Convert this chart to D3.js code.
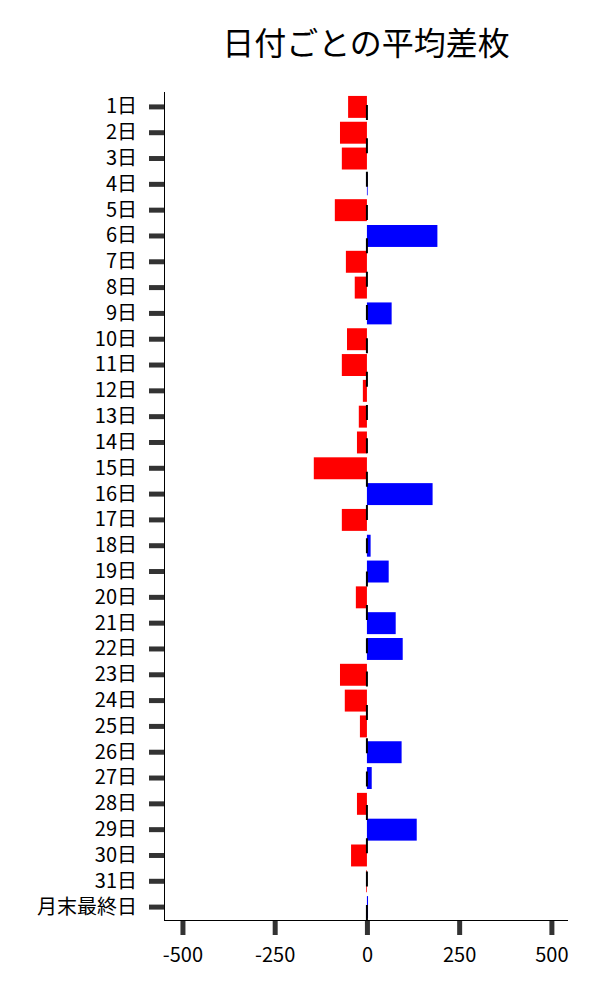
<!DOCTYPE html>
<html><head><meta charset="utf-8">
<script src="https://cdn.jsdelivr.net/npm/d3@7"></script>
<style>body{margin:0;background:#fff;} svg{display:block;}</style>
</head><body>
<script>
const categories = ["1日","2日","3日","4日","5日","6日","7日","8日","9日","10日","11日","12日","13日","14日","15日","16日","17日","18日","19日","20日","21日","22日","23日","24日","25日","26日","27日","28日","29日","30日","31日","月末最終日"];
const values = [-51,-73,-68,2,-87,191,-57,-33,67,-54,-68,-11,-22,-27,-144,178,-68,10,59,-30,78,97,-73,-60,-19,94,13,-27,135,-43,-2,3];
const xTicks = [-500,-250,0,250,500];
const title = "日付ごとの平均差枚";

const W=600,H=1000;
const svg=d3.select("body").append("svg").attr("width",W).attr("height",H);
const font="'Noto Sans CJK JP','Noto Sans',sans-serif";

const x=d3.scaleLinear().domain([-550,545]).range([164,568]);
const y=d3.scaleBand().domain(categories).range([94,920]).paddingInner(0.15).paddingOuter(0.075);

svg.append("text").attr("x",366).attr("y",55).attr("text-anchor","middle")
  .attr("font-family",font).attr("font-size",32).attr("fill","#000").text(title);

svg.append("g").selectAll("rect").data(values).join("rect")
  .attr("x",d=>x(Math.min(0,d))).attr("width",d=>Math.abs(x(d)-x(0)))
  .attr("y",(d,i)=>y(categories[i])).attr("height",y.bandwidth())
  .attr("fill",d=>d<0?"#ff0000":"#0000ff");

// zero dashed line
svg.append("line").attr("x1",x(0)).attr("x2",x(0)).attr("y1",105).attr("y2",920)
  .attr("stroke","#000").attr("stroke-width",2).attr("stroke-dasharray","15,18.33");

// axes
const yAxis=svg.append("g").attr("transform","translate(164,0)")
  .call(d3.axisLeft(y).tickSize(15).tickPadding(12));
yAxis.select(".domain").attr("d","M0.5,92V920").attr("stroke","#000").attr("stroke-width",1);
yAxis.selectAll(".tick line").attr("stroke","#333").attr("stroke-width",5).attr("x2",-15);
yAxis.selectAll(".tick text").attr("font-family",font).attr("font-size",20).attr("fill","#000");

const xAxis=svg.append("g").attr("transform","translate(0,920)")
  .call(d3.axisBottom(x).tickValues(xTicks).tickSize(15).tickPadding(13).tickFormat(d=>String(d)));
xAxis.select(".domain").attr("d","M164,0.5H568").attr("stroke","#000").attr("stroke-width",1);
xAxis.selectAll(".tick line").attr("stroke","#333").attr("stroke-width",5).attr("y1",1);
xAxis.selectAll(".tick text").attr("font-family",font).attr("font-size",20).attr("fill","#000");
</script>
</body></html>
